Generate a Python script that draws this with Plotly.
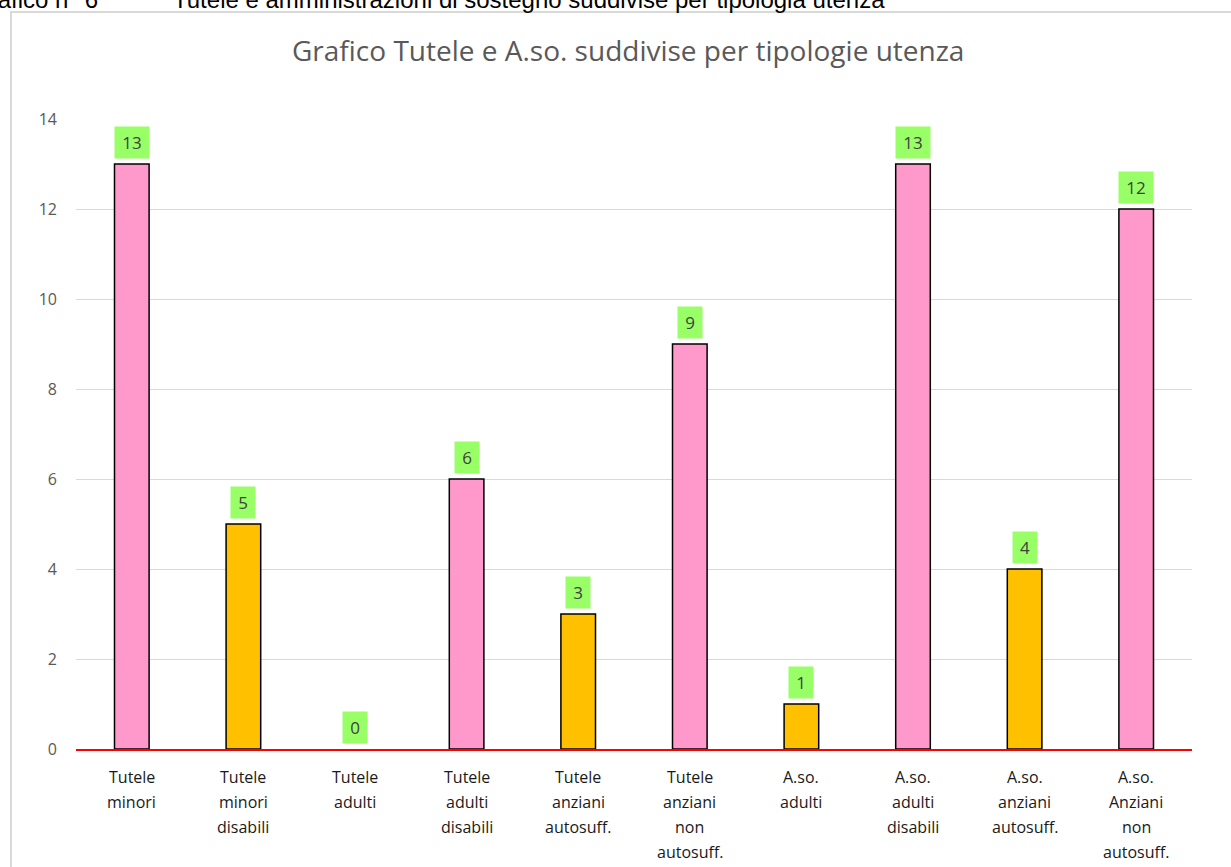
import plotly.graph_objects as go

categories = ["Tutele<br>minori", "Tutele<br>minori<br>disabili", "Tutele<br>adulti",
              "Tutele<br>adulti<br>disabili", "Tutele<br>anziani<br>autosuff.",
              "Tutele<br>anziani<br>non<br>autosuff.", "A.so.<br>adulti",
              "A.so.<br>adulti<br>disabili", "A.so.<br>anziani<br>autosuff.",
              "A.so.<br>Anziani<br>non<br>autosuff."]
values = [13, 5, 0, 6, 3, 9, 1, 13, 4, 12]
colors = ["#FF99CC", "#FFC000", "#FFC000", "#FF99CC", "#FFC000",
          "#FF99CC", "#FFC000", "#FF99CC", "#FFC000", "#FF99CC"]
yticks = [0, 2, 4, 6, 8, 10, 12, 14]

font = "Open Sans"

fig = go.Figure()
fig.add_trace(go.Bar(
    x=categories, y=values, width=0.31,
    marker=dict(color=colors,
                line=dict(color="black", width=[1.5 if v > 0 else 0 for v in values])),
    hoverinfo="skip",
))

annotations = []
for c, v in zip(categories, values):
    txt = str(v)
    annotations.append(dict(
        x=c, y=v, xref="x", yref="y", text=txt, showarrow=False,
        yshift=22, yanchor="middle", bgcolor="#99FF66",
        width=32 if len(txt) > 1 else 22, height=29, borderpad=1,
        font=dict(family=font, size=17, color="#404040"),
    ))
    for i, line in enumerate(c.split("<br>")):
        annotations.append(dict(
            x=c, y=0, xref="x", yref="y", text=line, showarrow=False,
            yshift=-28 - 25 * i, yanchor="middle",
            font=dict(family=font, size=16, color="#1a1a1a"),
        ))

annotations.append(dict(
    x=(627.5 - 76) / 1116, xref="paper", y=(749 - 50) / 630, yref="paper", yanchor="middle",
    text="Grafico Tutele e A.so. suddivise per tipologie utenza", showarrow=False,
    font=dict(family=font, size=28, color="#595959"),
))
annotations.append(dict(
    x=(100 - 76) / 1116, xref="paper", xanchor="right", y=(749 + 1) / 630, yref="paper",
    yanchor="middle", text="Grafico n° 6", showarrow=False,
    font=dict(family="Liberation Sans", size=24, color="black"),
))
annotations.append(dict(
    x=(171 - 76) / 1116, xref="paper", xanchor="left", y=(749 + 1) / 630, yref="paper",
    yanchor="middle", text="Tutele e amministrazioni di sostegno suddivise per tipologia utenza",
    showarrow=False, font=dict(family="Liberation Sans", size=24, color="black"),
))

fig.update_layout(
    width=1231, height=867,
    margin=dict(l=76, r=39, t=119, b=118),
    paper_bgcolor="white", plot_bgcolor="white",
    showlegend=False,
    annotations=annotations,
    shapes=[dict(type="rect", xref="paper", yref="paper",
                 x0=(11 - 76) / 1116, x1=1.2, y0=-0.5, y1=(749 - 12) / 630,
                 line=dict(color="#d9d9d9", width=2), layer="below")],
    xaxis=dict(showticklabels=False, showline=True, linecolor="#FF0000", linewidth=2,
               showgrid=False, zeroline=False, fixedrange=True),
    yaxis=dict(range=[0, 14], tickvals=yticks, showgrid=True, gridcolor="#d9d9d9",
               zeroline=False, showline=False, ticks="", ticklabelstandoff=18,
               tickfont=dict(family=font, size=16, color="#595959"), fixedrange=True),
)

fig.write_html("out.html")
